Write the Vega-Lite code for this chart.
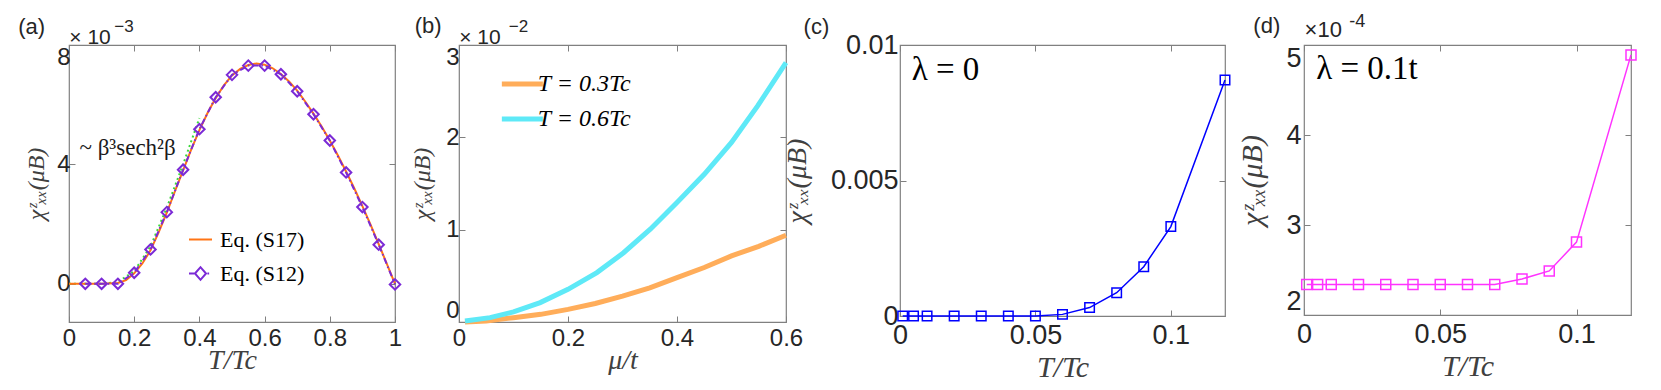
{
  "$schema": "https://vega.github.io/schema/vega-lite/v6.json",
  "background": "white",
  "padding": {"left": 17, "top": 12, "right": 5, "bottom": 5},
  "config": {
    "view": {"stroke": "#808080", "strokeWidth": 1.2},
    "axis": {
      "labelFont": "Liberation Sans", "labelFontSize": 24, "labelColor": "#262626", "labelPadding": 7,
      "titleFont": "Liberation Serif", "titleFontSize": 24, "titleFontStyle": "italic", "titleFontWeight": "normal", "titleColor": "#404040",
      "grid": false, "domain": false, "ticks": true, "tickSize": -6, "tickColor": "#808080", "tickWidth": 1, "labelFlush": false
    },
    "legend": {"labelFont": "Liberation Serif", "labelColor": "#000000", "padding": 0, "symbolType": "stroke"},
    "text": {"font": "Liberation Sans", "color": "#262626"}
  },
  "datasets": {
    "a": [
      {"series": "Eq. (S17)", "x": 0, "y": 0}, {"series": "Eq. (S17)", "x": 0.05, "y": 0}, {"series": "Eq. (S17)", "x": 0.1, "y": 0},
      {"series": "Eq. (S17)", "x": 0.15, "y": 0.03}, {"series": "Eq. (S17)", "x": 0.175, "y": 0.12}, {"series": "Eq. (S17)", "x": 0.2, "y": 0.35},
      {"series": "Eq. (S17)", "x": 0.225, "y": 0.68}, {"series": "Eq. (S17)", "x": 0.25, "y": 1.12}, {"series": "Eq. (S17)", "x": 0.275, "y": 1.72},
      {"series": "Eq. (S17)", "x": 0.3, "y": 2.38}, {"series": "Eq. (S17)", "x": 0.325, "y": 3.1}, {"series": "Eq. (S17)", "x": 0.35, "y": 3.8},
      {"series": "Eq. (S17)", "x": 0.375, "y": 4.5}, {"series": "Eq. (S17)", "x": 0.4, "y": 5.15}, {"series": "Eq. (S17)", "x": 0.425, "y": 5.72},
      {"series": "Eq. (S17)", "x": 0.45, "y": 6.22}, {"series": "Eq. (S17)", "x": 0.475, "y": 6.65}, {"series": "Eq. (S17)", "x": 0.5, "y": 6.98},
      {"series": "Eq. (S17)", "x": 0.525, "y": 7.2}, {"series": "Eq. (S17)", "x": 0.55, "y": 7.33}, {"series": "Eq. (S17)", "x": 0.575, "y": 7.38},
      {"series": "Eq. (S17)", "x": 0.6, "y": 7.34}, {"series": "Eq. (S17)", "x": 0.625, "y": 7.22}, {"series": "Eq. (S17)", "x": 0.65, "y": 7.03},
      {"series": "Eq. (S17)", "x": 0.675, "y": 6.78}, {"series": "Eq. (S17)", "x": 0.7, "y": 6.47}, {"series": "Eq. (S17)", "x": 0.725, "y": 6.1},
      {"series": "Eq. (S17)", "x": 0.75, "y": 5.7}, {"series": "Eq. (S17)", "x": 0.775, "y": 5.27}, {"series": "Eq. (S17)", "x": 0.8, "y": 4.8},
      {"series": "Eq. (S17)", "x": 0.825, "y": 4.3}, {"series": "Eq. (S17)", "x": 0.85, "y": 3.76}, {"series": "Eq. (S17)", "x": 0.875, "y": 3.2},
      {"series": "Eq. (S17)", "x": 0.9, "y": 2.6}, {"series": "Eq. (S17)", "x": 0.925, "y": 1.98}, {"series": "Eq. (S17)", "x": 0.95, "y": 1.33},
      {"series": "Eq. (S17)", "x": 0.975, "y": 0.67}, {"series": "Eq. (S17)", "x": 1, "y": 0},
      {"series": "Eq. (S12)", "x": 0.05, "y": 0}, {"series": "Eq. (S12)", "x": 0.1, "y": 0}, {"series": "Eq. (S12)", "x": 0.15, "y": 0},
      {"series": "Eq. (S12)", "x": 0.2, "y": 0.37}, {"series": "Eq. (S12)", "x": 0.25, "y": 1.15}, {"series": "Eq. (S12)", "x": 0.3, "y": 2.4},
      {"series": "Eq. (S12)", "x": 0.35, "y": 3.82}, {"series": "Eq. (S12)", "x": 0.4, "y": 5.18}, {"series": "Eq. (S12)", "x": 0.45, "y": 6.25},
      {"series": "Eq. (S12)", "x": 0.5, "y": 7.0}, {"series": "Eq. (S12)", "x": 0.55, "y": 7.31}, {"series": "Eq. (S12)", "x": 0.6, "y": 7.31},
      {"series": "Eq. (S12)", "x": 0.65, "y": 7.02}, {"series": "Eq. (S12)", "x": 0.7, "y": 6.45}, {"series": "Eq. (S12)", "x": 0.75, "y": 5.68},
      {"series": "Eq. (S12)", "x": 0.8, "y": 4.8}, {"series": "Eq. (S12)", "x": 0.85, "y": 3.73}, {"series": "Eq. (S12)", "x": 0.9, "y": 2.57},
      {"series": "Eq. (S12)", "x": 0.95, "y": 1.31}, {"series": "Eq. (S12)", "x": 1, "y": -0.02},
      {"series": "fit", "x": 0, "y": 0}, {"series": "fit", "x": 0.05, "y": 0}, {"series": "fit", "x": 0.1, "y": 0},
      {"series": "fit", "x": 0.15, "y": 0.06}, {"series": "fit", "x": 0.2, "y": 0.42}, {"series": "fit", "x": 0.25, "y": 1.25},
      {"series": "fit", "x": 0.3, "y": 2.55}, {"series": "fit", "x": 0.35, "y": 4.0}, {"series": "fit", "x": 0.4, "y": 5.55}
    ],
    "b": [
      {"series": "T = 0.3Tc", "x": 0.011, "y": 0}, {"series": "T = 0.3Tc", "x": 0.05, "y": 0.01}, {"series": "T = 0.3Tc", "x": 0.1, "y": 0.047},
      {"series": "T = 0.3Tc", "x": 0.15, "y": 0.083}, {"series": "T = 0.3Tc", "x": 0.2, "y": 0.137}, {"series": "T = 0.3Tc", "x": 0.25, "y": 0.2},
      {"series": "T = 0.3Tc", "x": 0.3, "y": 0.28}, {"series": "T = 0.3Tc", "x": 0.35, "y": 0.37}, {"series": "T = 0.3Tc", "x": 0.4, "y": 0.48},
      {"series": "T = 0.3Tc", "x": 0.45, "y": 0.59}, {"series": "T = 0.3Tc", "x": 0.5, "y": 0.716}, {"series": "T = 0.3Tc", "x": 0.55, "y": 0.82},
      {"series": "T = 0.3Tc", "x": 0.6, "y": 0.94},
      {"series": "T = 0.6Tc", "x": 0.011, "y": 0.01}, {"series": "T = 0.6Tc", "x": 0.057, "y": 0.047}, {"series": "T = 0.6Tc", "x": 0.1, "y": 0.11},
      {"series": "T = 0.6Tc", "x": 0.149, "y": 0.21}, {"series": "T = 0.6Tc", "x": 0.2, "y": 0.354}, {"series": "T = 0.6Tc", "x": 0.253, "y": 0.535},
      {"series": "T = 0.6Tc", "x": 0.302, "y": 0.75}, {"series": "T = 0.6Tc", "x": 0.351, "y": 1.005}, {"series": "T = 0.6Tc", "x": 0.4, "y": 1.294},
      {"series": "T = 0.6Tc", "x": 0.45, "y": 1.6}, {"series": "T = 0.6Tc", "x": 0.5, "y": 1.945}, {"series": "T = 0.6Tc", "x": 0.548, "y": 2.34},
      {"series": "T = 0.6Tc", "x": 0.6, "y": 2.81}
    ],
    "c": [
      {"x": 0.001, "y": 0}, {"x": 0.005, "y": 0}, {"x": 0.01, "y": 0}, {"x": 0.02, "y": 0}, {"x": 0.03, "y": 0},
      {"x": 0.04, "y": 0}, {"x": 0.05, "y": 0.000002}, {"x": 0.06, "y": 0.00006}, {"x": 0.07, "y": 0.00031},
      {"x": 0.08, "y": 0.00086}, {"x": 0.09, "y": 0.00182}, {"x": 0.1, "y": 0.0033}, {"x": 0.12, "y": 0.00871}
    ],
    "d": [
      {"x": 0.001, "y": 2.34}, {"x": 0.005, "y": 2.34}, {"x": 0.01, "y": 2.34}, {"x": 0.02, "y": 2.34}, {"x": 0.03, "y": 2.34},
      {"x": 0.04, "y": 2.34}, {"x": 0.05, "y": 2.34}, {"x": 0.06, "y": 2.34}, {"x": 0.07, "y": 2.34},
      {"x": 0.08, "y": 2.4}, {"x": 0.09, "y": 2.49}, {"x": 0.1, "y": 2.81}, {"x": 0.12, "y": 4.89}
    ]
  },
  "resolve": {"scale": {"color": "independent"}, "legend": {"color": "independent"}},
  "spacing": -22,
  "hconcat": [
    {
      "bounds": "flush",
      "spacing": 64,
      "resolve": {"scale": {"color": "independent"}, "legend": {"color": "independent"}},
      "hconcat": [
        {
          "width": 326, "height": 277,
          "resolve": {"axis": {"x": "independent", "y": "independent"}},
          "layer": [
            {
              "data": {"name": "a"},
              "transform": [{"filter": "datum.series === 'fit'"}],
              "mark": {"type": "line", "color": "#3AD83A", "strokeWidth": 2, "strokeDash": [2, 3]},
              "encoding": {
                "x": {"field": "x", "type": "quantitative", "scale": {"domain": [0, 1], "nice": false, "zero": false}, "axis": null},
                "y": {"field": "y", "type": "quantitative", "scale": {"domain": [-1.28, 8], "nice": false, "zero": false}, "axis": null}
              }
            },
            {
              "data": {"name": "a"},
              "transform": [{"filter": "datum.series === 'Eq. (S17)'"}],
              "mark": {"type": "line", "strokeWidth": 2},
              "encoding": {
                "x": {"field": "x", "type": "quantitative", "scale": {"domain": [0, 1], "nice": false, "zero": false},
                      "axis": {"values": [0, 0.2, 0.4, 0.6, 0.8, 1], "format": "~g", "title": "T/Tc", "titleFontSize": 28, "titlePadding": -4, "labelPadding": 10}},
                "y": {"field": "y", "type": "quantitative", "scale": {"domain": [-1.28, 8], "nice": false, "zero": false},
                      "axis": {"values": [0, 4, 8], "title": "χᶻₓₓ(μB)", "labelFlush": true, "labelPadding": 5, "titlePadding": 8}},
                "color": {"field": "series", "type": "nominal", "scale": {"domain": ["Eq. (S17)", "Eq. (S12)"], "range": ["#FF7415", "#7B2AD6"]},
                          "legend": {"orient": "none", "legendX": 119, "legendY": 182, "title": null, "labelFontSize": 22, "labelFontStyle": "normal", "symbolSize": 529,
                                     "symbolStrokeWidth": 2, "labelOffset": 7, "rowPadding": 10, "symbolType": "stroke",
                                     "encode": {"symbols": {"update": {
                                       "shape": {"signal": "datum.value === 'Eq. (S12)' ? 'M-1,0H-0.55M-0.48,0L0,-0.55L0.48,0L0,0.55ZM0.6,0H0.75' : 'stroke'"},
                                       "fill": {"value": "transparent"}, "strokeWidth": {"value": 2}, "opacity": {"value": 1}}}}}}
              }
            },
            {
              "data": {"name": "a"},
              "transform": [{"filter": "datum.series === 'Eq. (S12)'"}],
              "mark": {"type": "line", "strokeWidth": 2, "strokeDash": [6, 3, 1.5, 3]},
              "encoding": {
                "x": {"field": "x", "type": "quantitative", "scale": {"domain": [0, 1], "nice": false, "zero": false}, "axis": null},
                "y": {"field": "y", "type": "quantitative", "scale": {"domain": [-1.28, 8], "nice": false, "zero": false}, "axis": null},
                "color": {"field": "series", "type": "nominal", "scale": {"domain": ["Eq. (S17)", "Eq. (S12)"], "range": ["#FF7415", "#7B2AD6"]}}
              }
            },
            {
              "data": {"name": "a"},
              "transform": [{"filter": "datum.series === 'Eq. (S12)'"}],
              "mark": {"type": "point", "shape": "diamond", "filled": false, "size": 110, "strokeWidth": 2, "opacity": 1},
              "encoding": {
                "x": {"field": "x", "type": "quantitative", "scale": {"domain": [0, 1], "nice": false, "zero": false}, "axis": null},
                "y": {"field": "y", "type": "quantitative", "scale": {"domain": [-1.28, 8], "nice": false, "zero": false}, "axis": null},
                "color": {"field": "series", "type": "nominal", "scale": {"domain": ["Eq. (S17)", "Eq. (S12)"], "range": ["#FF7415", "#7B2AD6"]}}
              }
            },
            {
              "data": {"values": [{}]},
              "mark": {"type": "text", "text": "(a)", "align": "left", "baseline": "alphabetic", "fontSize": 22, "clip": false},
              "encoding": {
                "x": {"datum": -0.156, "type": "quantitative", "scale": {"domain": [0, 1], "nice": false, "zero": false},
                      "axis": {"orient": "top", "values": [0, 0.2, 0.4, 0.6, 0.8, 1], "labels": false, "title": null}},
                "y": {"datum": 8.36, "type": "quantitative", "scale": {"domain": [-1.28, 8], "nice": false, "zero": false},
                      "axis": {"orient": "right", "values": [0, 4, 8], "labels": false, "title": null}}
              }
            },
            {
              "data": {"values": [{}]},
              "mark": {"type": "text", "text": "× 10", "align": "left", "baseline": "alphabetic", "fontSize": 21, "clip": false},
              "encoding": {
                "x": {"datum": 0.001, "type": "quantitative", "scale": {"domain": [0, 1], "nice": false, "zero": false}, "axis": null},
                "y": {"datum": 8.04, "type": "quantitative", "scale": {"domain": [-1.28, 8], "nice": false, "zero": false}, "axis": null}
              }
            },
            {
              "data": {"values": [{}]},
              "mark": {"type": "text", "text": "−3", "align": "left", "baseline": "alphabetic", "fontSize": 17, "clip": false},
              "encoding": {
                "x": {"datum": 0.139, "type": "quantitative", "scale": {"domain": [0, 1], "nice": false, "zero": false}, "axis": null},
                "y": {"datum": 8.425, "type": "quantitative", "scale": {"domain": [-1.28, 8], "nice": false, "zero": false}, "axis": null}
              }
            },
            {
              "data": {"values": [{}]},
              "mark": {"type": "text", "text": "~ β³sech²β", "align": "left", "baseline": "alphabetic", "font": "Liberation Serif", "fontSize": 23, "color": "#1a1a1a"},
              "encoding": {
                "x": {"datum": 0.032, "type": "quantitative", "scale": {"domain": [0, 1], "nice": false, "zero": false}, "axis": null},
                "y": {"datum": 4.31, "type": "quantitative", "scale": {"domain": [-1.28, 8], "nice": false, "zero": false}, "axis": null}
              }
            }
          ]
        },
        {
          "width": 327, "height": 277,
          "resolve": {"axis": {"x": "independent", "y": "independent"}},
          "layer": [
            {
              "data": {"name": "b"},
              "mark": {"type": "line", "strokeWidth": 5},
              "encoding": {
                "x": {"field": "x", "type": "quantitative", "scale": {"domain": [0, 0.6], "nice": false, "zero": false},
                      "axis": {"values": [0, 0.2, 0.4, 0.6], "format": "~g", "title": "μ/t", "titleFontSize": 28, "titlePadding": -4, "labelPadding": 10}},
                "y": {"field": "y", "type": "quantitative", "scale": {"domain": [0, 3], "nice": false, "zero": false},
                      "axis": {"values": [0, 1, 2, 3], "title": "χᶻₓₓ(μB)", "labelFlush": true, "labelPadding": 6, "titlePadding": 11}},
                "color": {"field": "series", "type": "nominal", "scale": {"domain": ["T = 0.3Tc", "T = 0.6Tc"], "range": ["#FFAD5A", "#5EE9F7"]},
                          "legend": {"orient": "none", "legendX": 45.85, "legendY": 21.5, "title": null, "labelFontSize": 24, "labelFontStyle": "italic",
                                     "symbolSize": 858, "symbolStrokeWidth": 5, "labelOffset": -2, "rowPadding": 5, "symbolType": "M-1.4,0H1.4"}}
              }
            },
            {
              "data": {"values": [{}]},
              "mark": {"type": "text", "text": "(b)", "align": "left", "baseline": "alphabetic", "fontSize": 22, "clip": false},
              "encoding": {
                "x": {"datum": -0.0813, "type": "quantitative", "scale": {"domain": [0, 0.6], "nice": false, "zero": false},
                      "axis": {"orient": "top", "values": [0, 0.2, 0.4, 0.6], "labels": false, "title": null}},
                "y": {"datum": 3.127, "type": "quantitative", "scale": {"domain": [0, 3], "nice": false, "zero": false},
                      "axis": {"orient": "right", "values": [0, 1, 2, 3], "labels": false, "title": null}}
              }
            },
            {
              "data": {"values": [{}]},
              "mark": {"type": "text", "text": "× 10", "align": "left", "baseline": "alphabetic", "fontSize": 21, "clip": false},
              "encoding": {
                "x": {"datum": 0.0005, "type": "quantitative", "scale": {"domain": [0, 0.6], "nice": false, "zero": false}, "axis": null},
                "y": {"datum": 3.013, "type": "quantitative", "scale": {"domain": [0, 3], "nice": false, "zero": false}, "axis": null}
              }
            },
            {
              "data": {"values": [{}]},
              "mark": {"type": "text", "text": "−2", "align": "left", "baseline": "alphabetic", "fontSize": 17, "clip": false},
              "encoding": {
                "x": {"datum": 0.0912, "type": "quantitative", "scale": {"domain": [0, 0.6], "nice": false, "zero": false}, "axis": null},
                "y": {"datum": 3.138, "type": "quantitative", "scale": {"domain": [0, 3], "nice": false, "zero": false}, "axis": null}
              }
            }
          ]
        }
      ]
    },
    {
      "bounds": "flush",
      "spacing": 79,
      "resolve": {"scale": {"color": "independent"}, "legend": {"color": "independent"}},
      "hconcat": [
        {
          "width": 325, "height": 271,
          "resolve": {"axis": {"x": "independent", "y": "independent"}},
          "layer": [
            {
              "data": {"name": "c"},
              "mark": {"type": "line", "strokeWidth": 1.5, "color": "#0000FF"},
              "encoding": {
                "x": {"field": "x", "type": "quantitative", "scale": {"domain": [0, 0.12], "nice": false, "zero": false},
                      "axis": {"values": [0, 0.05, 0.1], "format": "~g", "title": "T/Tc", "titleFontSize": 30, "labelFontSize": 27, "titlePadding": 4, "labelPadding": 12}},
                "y": {"field": "y", "type": "quantitative", "scale": {"domain": [0, 0.01], "nice": false, "zero": false},
                      "axis": {"values": [0, 0.005, 0.01], "format": "~g", "title": "χᶻₓₓ(μB)", "titleFontSize": 28, "labelFontSize": 27, "labelFlush": false, "labelPadding": 8, "titlePadding": 19}}
              }
            },
            {
              "data": {"name": "c"},
              "mark": {"type": "point", "shape": "square", "filled": false, "size": 90, "strokeWidth": 1.5, "color": "#0000FF", "opacity": 1},
              "encoding": {
                "x": {"field": "x", "type": "quantitative", "scale": {"domain": [0, 0.12], "nice": false, "zero": false}, "axis": null},
                "y": {"field": "y", "type": "quantitative", "scale": {"domain": [0, 0.01], "nice": false, "zero": false}, "axis": null}
              }
            },
            {
              "data": {"values": [{}]},
              "mark": {"type": "text", "text": "(c)", "align": "left", "baseline": "alphabetic", "fontSize": 22, "clip": false},
              "encoding": {
                "x": {"datum": -0.0356, "type": "quantitative", "scale": {"domain": [0, 0.12], "nice": false, "zero": false},
                      "axis": {"orient": "top", "values": [0, 0.05, 0.1], "labels": false, "title": null}},
                "y": {"datum": 0.010395, "type": "quantitative", "scale": {"domain": [0, 0.01], "nice": false, "zero": false},
                      "axis": {"orient": "right", "values": [0, 0.005, 0.01], "labels": false, "title": null}}
              }
            },
            {
              "data": {"values": [{}]},
              "mark": {"type": "text", "text": "λ = 0", "align": "left", "baseline": "alphabetic", "font": "Liberation Serif", "fontSize": 33, "color": "#000000"},
              "encoding": {
                "x": {"datum": 0.0043, "type": "quantitative", "scale": {"domain": [0, 0.12], "nice": false, "zero": false}, "axis": null},
                "y": {"datum": 0.0087, "type": "quantitative", "scale": {"domain": [0, 0.01], "nice": false, "zero": false}, "axis": null}
              }
            }
          ]
        },
        {
          "width": 327, "height": 270,
          "resolve": {"axis": {"x": "independent", "y": "independent"}},
          "layer": [
            {
              "data": {"name": "d"},
              "mark": {"type": "line", "strokeWidth": 1.5, "color": "#FF33FF"},
              "encoding": {
                "x": {"field": "x", "type": "quantitative", "scale": {"domain": [0, 0.12], "nice": false, "zero": false},
                      "axis": {"values": [0, 0.05, 0.1], "format": "~g", "title": "T/Tc", "titleFontSize": 30, "labelFontSize": 27, "titlePadding": 4, "labelPadding": 12}},
                "y": {"field": "y", "type": "quantitative", "scale": {"domain": [2, 5], "nice": false, "zero": false},
                      "axis": {"values": [2, 3, 4, 5], "title": "χᶻₓₓ(μB)", "titleFontSize": 30, "labelFontSize": 27, "labelFlush": true, "labelPadding": 9, "titlePadding": 18}}
              }
            },
            {
              "data": {"name": "d"},
              "mark": {"type": "point", "shape": "square", "filled": false, "size": 100, "strokeWidth": 1.5, "color": "#FF33FF", "opacity": 1},
              "encoding": {
                "x": {"field": "x", "type": "quantitative", "scale": {"domain": [0, 0.12], "nice": false, "zero": false}, "axis": null},
                "y": {"field": "y", "type": "quantitative", "scale": {"domain": [2, 5], "nice": false, "zero": false}, "axis": null}
              }
            },
            {
              "data": {"values": [{}]},
              "mark": {"type": "text", "text": "(d)", "align": "left", "baseline": "alphabetic", "fontSize": 22, "clip": false},
              "encoding": {
                "x": {"datum": -0.0186, "type": "quantitative", "scale": {"domain": [0, 0.12], "nice": false, "zero": false},
                      "axis": {"orient": "top", "values": [0, 0.05, 0.1], "labels": false, "title": null}},
                "y": {"datum": 5.13, "type": "quantitative", "scale": {"domain": [2, 5], "nice": false, "zero": false},
                      "axis": {"orient": "right", "values": [2, 3, 4, 5], "labels": false, "title": null}}
              }
            },
            {
              "data": {"values": [{}]},
              "mark": {"type": "text", "text": "×10", "align": "left", "baseline": "alphabetic", "fontSize": 22, "clip": false},
              "encoding": {
                "x": {"datum": 0.0002, "type": "quantitative", "scale": {"domain": [0, 0.12], "nice": false, "zero": false}, "axis": null},
                "y": {"datum": 5.086, "type": "quantitative", "scale": {"domain": [2, 5], "nice": false, "zero": false}, "axis": null}
              }
            },
            {
              "data": {"values": [{}]},
              "mark": {"type": "text", "text": "-4", "align": "left", "baseline": "alphabetic", "fontSize": 18, "clip": false},
              "encoding": {
                "x": {"datum": 0.0166, "type": "quantitative", "scale": {"domain": [0, 0.12], "nice": false, "zero": false}, "axis": null},
                "y": {"datum": 5.197, "type": "quantitative", "scale": {"domain": [2, 5], "nice": false, "zero": false}, "axis": null}
              }
            },
            {
              "data": {"values": [{}]},
              "mark": {"type": "text", "text": "λ = 0.1t", "align": "left", "baseline": "alphabetic", "font": "Liberation Serif", "fontSize": 33, "color": "#000000"},
              "encoding": {
                "x": {"datum": 0.0045, "type": "quantitative", "scale": {"domain": [0, 0.12], "nice": false, "zero": false}, "axis": null},
                "y": {"datum": 4.624, "type": "quantitative", "scale": {"domain": [2, 5], "nice": false, "zero": false}, "axis": null}
              }
            }
          ]
        }
      ]
    }
  ]
}
